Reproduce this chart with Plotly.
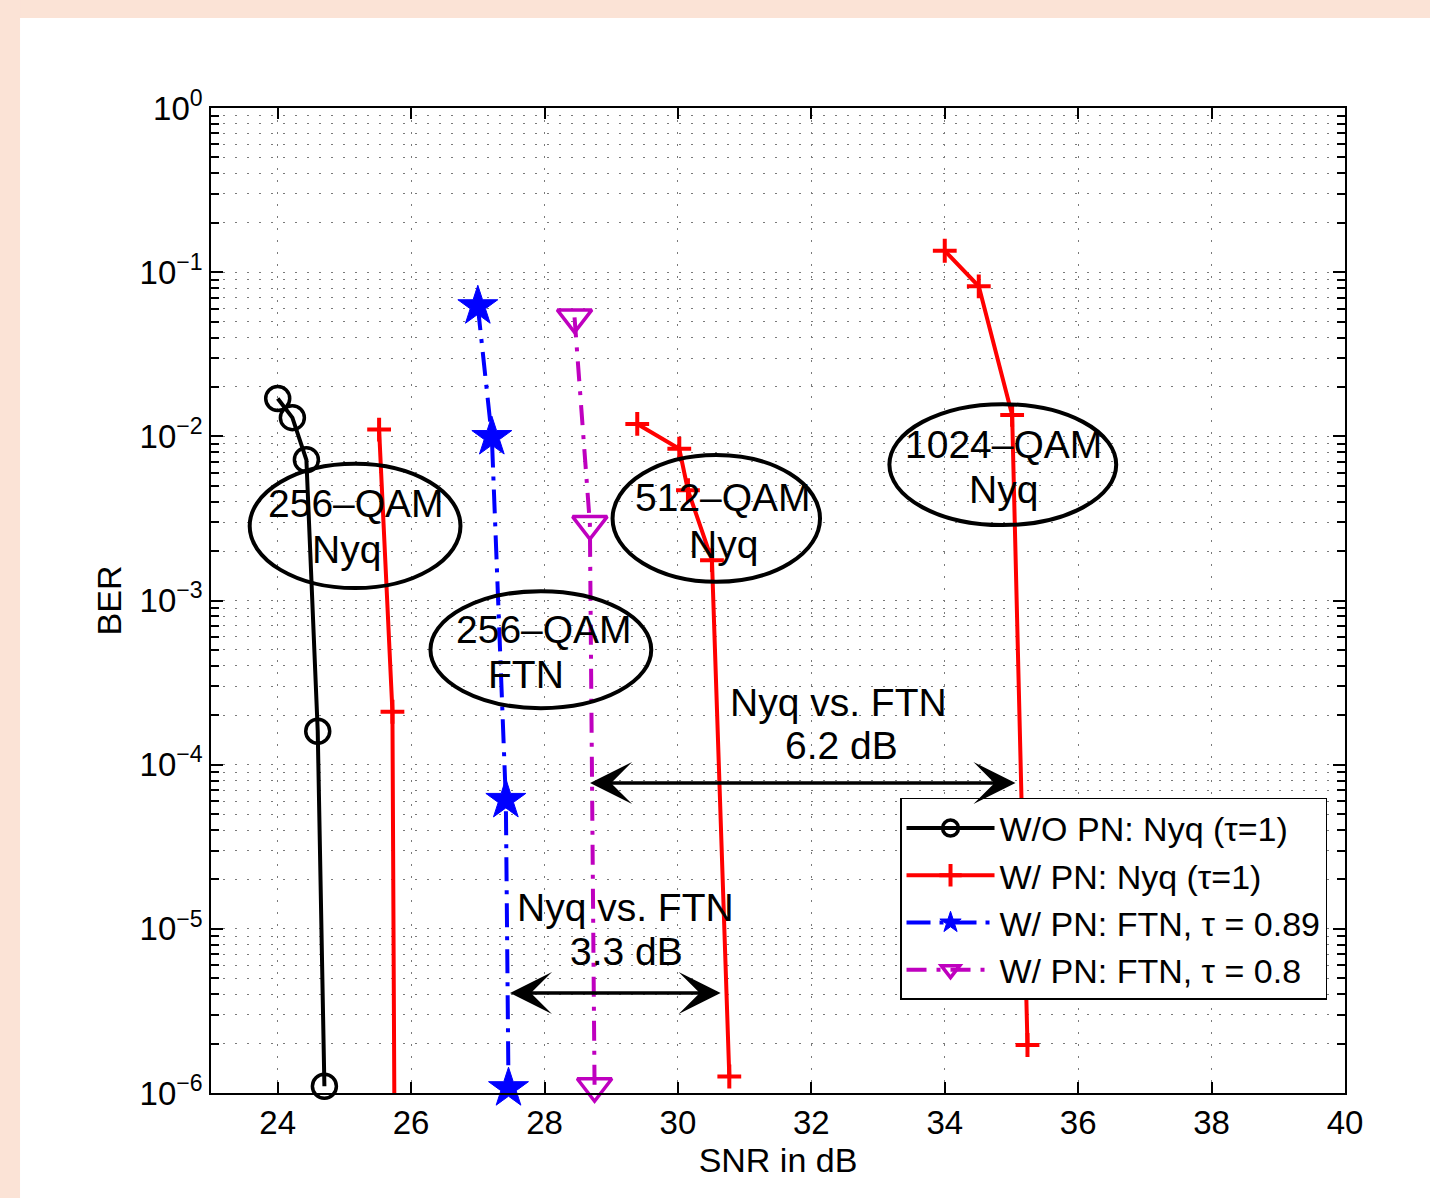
import plotly.graph_objects as go

# ---------------- data ----------------
snr_wo_pn_nyq = [24.0, 24.22, 24.43, 24.6, 24.7]
ber_wo_pn_nyq = [1.7e-2, 1.3e-2, 7.2e-3, 1.6e-4, 1.1e-6]

snr_pn_nyq_256 = [25.52, 25.72, 25.76]
ber_pn_nyq_256 = [1.1e-2, 2.1e-4, 1.0e-7]

snr_pn_nyq_512 = [29.39, 30.02, 30.15, 30.51, 30.77]
ber_pn_nyq_512 = [1.19e-2, 8.4e-3, 4.7e-3, 1.76e-3, 1.26e-6]

snr_pn_nyq_1024 = [34.0, 34.51, 35.01, 35.24]
ber_pn_nyq_1024 = [1.35e-1, 8.2e-2, 1.35e-2, 1.96e-6]

snr_pn_ftn_089 = [27.0, 27.21, 27.42, 27.46]
ber_pn_ftn_089 = [6.2e-2, 9.9e-3, 6.1e-5, 1.07e-6]

snr_pn_ftn_08 = [28.45, 28.68, 28.75]
ber_pn_ftn_08 = [5.3e-2, 2.92e-3, 1.1e-6]

legend_names = ["W/O PN: Nyq (τ=1)", "W/ PN: Nyq (τ=1)",
                "W/ PN: FTN, τ = 0.89", "W/ PN: FTN, τ = 0.8"]

x_ticks = [24, 26, 28, 30, 32, 34, 36, 38, 40]
y_tick_vals = [1e-6, 1e-5, 1e-4, 1e-3, 1e-2, 1e-1, 1e0]
y_tick_text = ["10<sup>−6</sup>", "10<sup>−5</sup>", "10<sup>−4</sup>", "10<sup>−3</sup>",
               "10<sup>−2</sup>", "10<sup>−1</sup>", "10<sup>0</sup>"]
y_minor_vals = [m * 10.0 ** e for e in range(-6, 0) for m in range(2, 10)]

FONT = "Liberation Sans, Arial, Helvetica, sans-serif"
LW = 4

fig = go.Figure()

fig.add_trace(go.Scatter(
    x=snr_wo_pn_nyq, y=ber_wo_pn_nyq, mode="lines+markers", name=legend_names[0],
    line=dict(color="black", width=LW),
    marker=dict(symbol="circle-open", size=24, color="black", line=dict(width=3.5)),
    cliponaxis=False))

fig.add_trace(go.Scatter(
    x=snr_pn_nyq_256, y=ber_pn_nyq_256, mode="lines+markers", name=legend_names[1],
    line=dict(color="red", width=LW),
    marker=dict(symbol="cross-thin", size=17, color="red", line=dict(width=4, color="red")),
    legendgroup="red", cliponaxis=False))
fig.add_trace(go.Scatter(
    x=snr_pn_nyq_512, y=ber_pn_nyq_512, mode="lines+markers", name=legend_names[1],
    line=dict(color="red", width=LW),
    marker=dict(symbol="cross-thin", size=17, color="red", line=dict(width=4, color="red")),
    legendgroup="red", showlegend=False, cliponaxis=False))
fig.add_trace(go.Scatter(
    x=snr_pn_nyq_1024, y=ber_pn_nyq_1024, mode="lines+markers", name=legend_names[1],
    line=dict(color="red", width=LW),
    marker=dict(symbol="cross-thin", size=17, color="red", line=dict(width=4, color="red")),
    legendgroup="red", showlegend=False, cliponaxis=False))

fig.add_trace(go.Scatter(
    x=snr_pn_ftn_089, y=ber_pn_ftn_089, mode="lines+markers", name=legend_names[2],
    line=dict(color="blue", width=LW, dash="24px,9px,4px,9px"),
    marker=dict(symbol="star", size=30, color="blue", line=dict(width=1, color="blue")),
    cliponaxis=False))

fig.add_trace(go.Scatter(
    x=snr_pn_ftn_08, y=ber_pn_ftn_08, mode="lines+markers", name=legend_names[3],
    line=dict(color="#BF00BF", width=LW, dash="20px,10px,4px,10px"),
    marker=dict(symbol="triangle-down-open", size=30, color="#BF00BF", line=dict(width=3.5)),
    cliponaxis=False))

# ---------------- ellipses ----------------
ellipses = [
    (23.58, 26.74, 6.8e-3, 1.19e-3),
    (26.29, 29.60, 1.14e-3, 2.21e-4),
    (29.02, 32.13, 7.7e-3, 1.30e-3),
    (33.17, 36.57, 1.57e-2, 2.88e-3),
]
shapes = []
for x0, x1, y0, y1 in ellipses:
    shapes.append(dict(type="circle", xref="x", yref="y", x0=x0, x1=x1, y0=y0, y1=y1,
                       line=dict(color="black", width=4), layer="above"))

# peach page border
shapes.append(dict(type="rect", xref="paper", yref="paper", x0=-0.2, x1=1.1,
                   y0=1.0914, y1=1.12, fillcolor="#FBE3D6", line=dict(width=0), layer="below"))
shapes.append(dict(type="rect", xref="paper", yref="paper", x0=-0.2, x1=-0.1684,
                   y0=-0.12, y1=1.12, fillcolor="#FBE3D6", line=dict(width=0), layer="below"))

# ---------------- text annotations ----------------
labels = [
    ("256–QAM", 25.18, -2.412), ("Nyq", 25.03, -2.692),
    ("256–QAM", 27.985, -3.174), ("FTN", 27.715, -3.448),
    ("512–QAM", 30.674, -2.370), ("Nyq", 30.68, -2.656),
    ("1024–QAM", 34.876, -2.047), ("Nyq", 34.876, -2.321),
    ("Nyq vs. FTN", 32.41, -3.624), ("6.2 dB", 32.45, -3.886),
    ("Nyq vs. FTN", 29.21, -4.873), ("3.3 dB", 29.23, -5.141),
]
annotations = []
for t, x, ly in labels:
    annotations.append(dict(text=t, x=x, y=ly, xref="x", yref="y", showarrow=False,
                            xanchor="center", yanchor="middle",
                            font=dict(family=FONT, size=39, color="black")))

arrows = [
    (28.66, 35.06, -4.112),
    (27.46, 30.64, -5.391),
]
for xa, xb, ly in arrows:
    annotations.append(dict(text="", x=xb, y=ly, ax=xa, ay=ly, xref="x", yref="y",
                            axref="x", ayref="y", showarrow=True, arrowhead=3,
                            startarrowhead=3, arrowside="end+start", arrowsize=2.0,
                            startarrowsize=2.0, arrowwidth=3.5, arrowcolor="black",
                            standoff=0, startstandoff=0))

grid_dash = "2px,10px"
grid_color = "#7a7a7a"

fig.update_layout(
    width=1430, height=1198,
    margin=dict(l=211, r=85, t=108, b=105),
    paper_bgcolor="white", plot_bgcolor="white",
    font=dict(family=FONT, size=33, color="black"),
    shapes=shapes, annotations=annotations,
    showlegend=True,
    legend=dict(x=0.6076, y=0.2995, xanchor="left", yanchor="top",
                bgcolor="white", bordercolor="black", borderwidth=1.5,
                font=dict(family=FONT, size=34, color="black"),
                itemwidth=88, tracegroupgap=0),
    xaxis=dict(range=[23, 40], tickvals=x_ticks, ticktext=[str(v) for v in x_ticks],
               ticks="inside", ticklen=11, tickwidth=1.5, tickcolor="black",
               showline=True, linecolor="black", linewidth=1.5, mirror="allticks",
               showgrid=True, gridcolor=grid_color, griddash=grid_dash, gridwidth=1,
               zeroline=False,
               tickfont=dict(family=FONT, size=33, color="black"),
               title=dict(text="SNR in dB", font=dict(family=FONT, size=34, color="black"),
                          standoff=5)),
    yaxis=dict(type="log", range=[-6, 0], tickvals=y_tick_vals, ticktext=y_tick_text,
               ticks="inside", ticklen=12, tickwidth=1.5, tickcolor="black",
               showline=True, linecolor="black", linewidth=1.5, mirror="allticks",
               showgrid=True, gridcolor=grid_color, griddash=grid_dash, gridwidth=1,
               zeroline=False,
               minor=dict(tickvals=y_minor_vals, ticks="inside", ticklen=8, tickwidth=1.5,
                          tickcolor="black", showgrid=True, gridcolor=grid_color,
                          griddash=grid_dash, gridwidth=1),
               tickfont=dict(family=FONT, size=33, color="black"),
               title=dict(text="BER", font=dict(family=FONT, size=34, color="black"),
                          standoff=8)),
)

fig.write_html("out.html", config={"displayModeBar": False},
               post_script="document.body.style.margin='0';")
